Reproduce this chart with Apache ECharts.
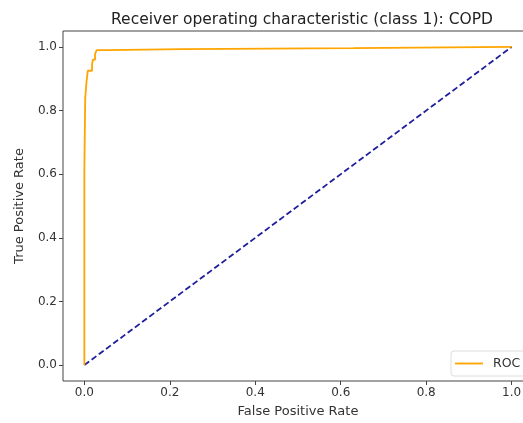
<!DOCTYPE html>
<html><head><meta charset="utf-8">
<script src="https://cdn.jsdelivr.net/npm/echarts@6/dist/echarts.min.js"></script>
<style>html,body{margin:0;padding:0;background:#fff}#c{width:523px;height:423px}</style>
</head><body><div id="c"></div>
<script>
var fpr = [0, 0, 0.002, 0.002, 0.005, 0.005, 0.008, 0.008, 0.018, 0.018, 0.02, 0.02, 0.025, 0.025, 0.029, 0.029, 0.052, 0.052, 0.23, 0.23, 0.63, 0.63, 1.0];
var tpr = [0, 0.612, 0.612, 0.84, 0.84, 0.89, 0.89, 0.925, 0.925, 0.945, 0.945, 0.96, 0.96, 0.978, 0.978, 0.99, 0.99, 0.993, 0.993, 0.996, 0.996, 1.0, 1.0];
var chanceX = [0, 1];
var chanceY = [0, 1];
var tickValues = [0, 0.2, 0.4, 0.6, 0.8, 1.0];
var titleText = 'Receiver operating characteristic (class 1): COPD';

var font = 'DejaVu Sans';
var txt = '#333';
var chart = echarts.init(document.getElementById('c'), null, {renderer: 'canvas'});
function axis(name, gap, rot) {
  return {
    type: 'value', min: -0.05, max: 1.05,
    name: name, nameLocation: 'middle', nameGap: gap, nameRotate: rot,
    nameTextStyle: {fontFamily: font, fontSize: 13, color: txt},
    axisLine: {show: false, onZero: false},
    axisTick: {show: true, customValues: tickValues, length: 4, inside: false, lineStyle: {color: '#444'}},
    axisLabel: {customValues: tickValues, fontFamily: font, fontSize: 12, color: txt, margin: 6,
      formatter: function (v) { return v.toFixed(1); }},
    splitLine: {show: false}
  };
}
chart.setOption({
  animation: false,
  title: {text: titleText, left: 297, top: 7, textAlign: 'center',
    textStyle: {fontFamily: font, fontSize: 15.5, fontWeight: 'normal', color: '#222'}},
  grid: {left: 63, top: 31, width: 470, height: 350, show: true, borderColor: '#444', borderWidth: 1,
    outerBoundsMode: 'none', containLabel: false},
  xAxis: axis('False Positive Rate', 24, 0),
  yAxis: axis('True Positive Rate', 37, 90),
  legend: {data: [{name: 'ROC', icon: 'path://M0 0H30V2H0Z'}], left: 451, top: 351, orient: 'vertical',
    backgroundColor: '#fff', borderColor: '#ddd', borderWidth: 1, borderRadius: 3,
    padding: [6, 10, 6, 4], itemWidth: 28, itemHeight: 2, itemGap: 4,
    textStyle: {fontFamily: font, fontSize: 12.5, color: txt, padding: [0, 0, 0, 5]}},
  series: [
    {name: 'Chance', type: 'line', symbol: 'none', z: 2,
      data: chanceX.map(function (x, i) { return [x, chanceY[i]]; }),
      lineStyle: {color: '#1f1f9e', width: 1.8, type: [6, 3]}},
    {name: 'ROC', type: 'line', symbol: 'none', z: 3,
      data: fpr.map(function (x, i) { return [x, tpr[i]]; }),
      lineStyle: {color: '#FFA500', width: 1.8}, itemStyle: {color: '#FFA500'}}
  ]
});
</script></body></html>
